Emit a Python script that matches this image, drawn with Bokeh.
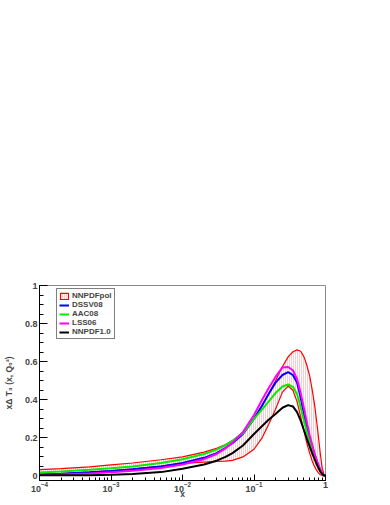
from bokeh.plotting import figure
from bokeh.models import Legend, LegendItem, Range1d, FixedTicker, LogTicker, LogTickFormatter
from bokeh.embed import file_html
from bokeh.resources import INLINE

# ---- data ----
x = [1e-4, 2e-4, 5e-4, 1e-3, 2e-3, 5e-3, 1e-2, 2e-2, 3e-2, 4e-2, 5e-2, 7e-2,
     0.1, 0.13, 0.16, 0.2, 0.25, 0.3, 0.35, 0.4, 0.45, 0.5, 0.55, 0.6, 0.65,
     0.7, 0.75, 0.8, 0.85, 0.9, 0.95, 1.0]

nnpdfpol_upper = [0.033, 0.038, 0.048, 0.058, 0.068, 0.085, 0.100, 0.125, 0.145, 0.165, 0.185, 0.23,
                  0.30, 0.37, 0.43, 0.50, 0.575, 0.625, 0.652, 0.662, 0.655, 0.625, 0.58, 0.525, 0.455,
                  0.38, 0.29, 0.20, 0.11, 0.04, 0.01, 0.0]
nnpdfpol_lower = [0.008, 0.012, 0.020, 0.027, 0.036, 0.052, 0.066, 0.073, 0.076, 0.078, 0.082, 0.10,
                  0.14, 0.20, 0.27, 0.35, 0.44, 0.472, 0.45, 0.39, 0.31, 0.235, 0.17, 0.12, 0.08,
                  0.05, 0.03, 0.015, 0.006, 0.002, 0.0, 0.0]
dssv08 = [0.008, 0.012, 0.019, 0.026, 0.035, 0.050, 0.068, 0.095, 0.12, 0.148, 0.172, 0.22,
          0.30, 0.37, 0.43, 0.49, 0.53, 0.545, 0.53, 0.49, 0.41, 0.32, 0.255, 0.20, 0.155,
          0.115, 0.082, 0.053, 0.03, 0.013, 0.004, 0.0]
aac08 = [0.018, 0.023, 0.032, 0.040, 0.050, 0.068, 0.088, 0.115, 0.138, 0.162, 0.185, 0.225,
         0.30, 0.35, 0.39, 0.435, 0.47, 0.48, 0.468, 0.43, 0.36, 0.29, 0.23, 0.18, 0.14,
         0.10, 0.072, 0.047, 0.026, 0.011, 0.003, 0.0]
lss06 = [0.005, 0.008, 0.013, 0.019, 0.027, 0.042, 0.060, 0.088, 0.115, 0.145, 0.175, 0.23,
         0.32, 0.40, 0.46, 0.52, 0.57, 0.572, 0.555, 0.51, 0.435, 0.355, 0.28, 0.215, 0.165,
         0.12, 0.085, 0.055, 0.03, 0.013, 0.004, 0.0]
nnpdf10 = [0.003, 0.003, 0.004, 0.006, 0.010, 0.020, 0.038, 0.060, 0.080, 0.100, 0.120, 0.16,
           0.22, 0.262, 0.295, 0.325, 0.358, 0.372, 0.365, 0.335, 0.29, 0.24, 0.195, 0.155, 0.12,
           0.09, 0.063, 0.04, 0.022, 0.01, 0.003, 0.0]

y_ticks = [0, 0.2, 0.4, 0.6, 0.8, 1]
y_tick_labels = ["0", "0.2", "0.4", "0.6", "0.8", "1"]
y_minor = [i * 0.05 for i in range(0, 21)]

FONT = "Liberation Sans"

p = figure(width=390, height=505, x_axis_type="log",
           x_range=Range1d(1e-4, 1.0), y_range=Range1d(-0.024, 1.0),
           output_backend="svg", toolbar_location=None,
           min_border_left=37, min_border_right=65, min_border_top=285, min_border_bottom=25)
p.background_fill_color = "white"
p.border_fill_color = "white"
p.outline_line_color = "#8a8a8a"
p.outline_line_width = 1
p.xgrid.visible = False
p.ygrid.visible = False

# band (hatched)
band_x = x + x[::-1]
band_y = nnpdfpol_upper + nnpdfpol_lower[::-1]
band = p.patch(band_x, band_y, fill_alpha=0, line_color="red", line_width=1.2,
               hatch_pattern="vertical_line", hatch_color="#ff3030", hatch_scale=2.0,
               hatch_weight=0.7, hatch_alpha=0.75)

r_dssv = p.line(x, dssv08, line_color="blue", line_width=2)
r_aac = p.line(x, aac08, line_color="#00ee00", line_width=2)
r_lss = p.line(x, lss06, line_color="magenta", line_width=2)
r_nn = p.line(x, nnpdf10, line_color="black", line_width=2)

# axes
xa = p.xaxis[0]
xa.ticker = LogTicker(num_minor_ticks=10)
xa.formatter = LogTickFormatter()
xa.major_label_overrides = {1: "1"}
xa.axis_label = "x"
for ax in (p.xaxis[0], p.yaxis[0]):
    ax.axis_line_color = "black"
    ax.major_tick_line_color = "black"
    ax.minor_tick_line_color = "black"
    ax.major_label_text_font = FONT
    ax.major_label_text_font_style = "bold"
    ax.major_label_text_font_size = "9px"
    ax.axis_label_text_font = FONT
    ax.axis_label_text_font_style = "bold"
    ax.axis_label_text_font_size = "8.5px"
    ax.major_tick_out = 0
    ax.minor_tick_out = 0
xa.major_tick_in = 6
xa.minor_tick_in = 3
xa.major_label_standoff = 1
xa.axis_label_standoff = -6

ya = p.yaxis[0]
ya.ticker = FixedTicker(ticks=y_ticks, minor_ticks=y_minor)
ya.major_label_overrides = {t: l for t, l in zip(y_ticks, y_tick_labels)}
ya.major_tick_in = 8
ya.minor_tick_in = 4
ya.major_label_standoff = 2
ya.axis_label = "x\u0394 T\u2083 (x, Q\u2080\u00b2)"
ya.axis_label_standoff = 8

legend = Legend(items=[
    LegendItem(label="NNPDFpol", renderers=[band]),
    LegendItem(label="DSSV08", renderers=[r_dssv]),
    LegendItem(label="AAC08", renderers=[r_aac]),
    LegendItem(label="LSS06", renderers=[r_lss]),
    LegendItem(label="NNPDF1.0", renderers=[r_nn]),
], location=(17, 141))
legend.label_text_font = FONT
legend.label_text_font_style = "bold"
legend.label_text_font_size = "8px"
legend.label_height = 9
legend.glyph_height = 8
legend.glyph_width = 10
legend.label_standoff = 3
legend.spacing = 0
legend.padding = 2
legend.margin = 0
legend.border_line_color = "black"
legend.border_line_width = 1
legend.background_fill_color = "white"
legend.background_fill_alpha = 1
p.add_layout(legend)

open("out.html", "w").write(file_html(p, INLINE))
